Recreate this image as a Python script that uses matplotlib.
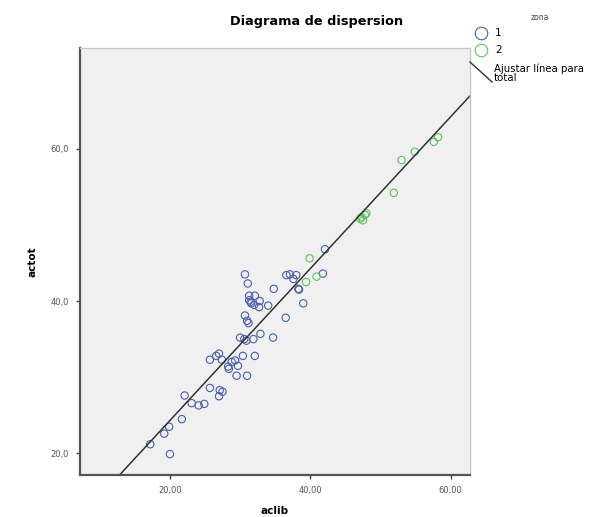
import numpy as np
import matplotlib.pyplot as plt
from matplotlib.lines import Line2D

# datos (aclib, actot)
aclib_1 = [30.7, 31.1, 34.8, 31.3, 32.1, 31.3, 32.8, 31.6, 32.7, 34.0,
           30.7, 31.0, 31.2, 36.5, 39.0, 36.6, 37.1, 38.0, 37.6, 38.3,
           38.4, 41.8, 42.1, 30.0, 30.6, 30.9, 31.9, 32.9, 34.7, 27.0,
           25.7, 27.4, 29.3, 30.4, 32.1, 28.3, 28.4, 29.7, 29.5, 31.0,
           25.7, 27.1, 27.5, 27.0, 22.1, 23.1, 24.1, 24.9, 21.7, 19.9,
           19.2, 20.0, 17.2, 31.5, 32.0, 26.6, 28.8]
actot_1 = [43.5, 42.3, 41.6, 40.7, 40.7, 40.1, 40.0, 39.7, 39.2, 39.4,
           38.1, 37.4, 37.1, 37.8, 39.7, 43.4, 43.5, 43.4, 42.9, 41.6,
           41.5, 43.6, 46.8, 35.2, 35.0, 34.8, 35.0, 35.7, 35.2, 33.1,
           32.3, 32.3, 32.2, 32.8, 32.8, 31.4, 31.1, 31.5, 30.2, 30.2,
           28.6, 28.3, 28.1, 27.5, 27.6, 26.6, 26.3, 26.5, 24.5, 23.5,
           22.6, 19.9, 21.2, 39.9, 39.5, 32.8, 32.0]
aclib_2 = [39.9, 39.4, 40.9, 47.3, 47.8, 47.1, 47.5, 48.0, 51.9, 53.0,
           54.9, 57.6, 58.2]
actot_2 = [45.6, 42.5, 43.2, 51.0, 51.3, 50.8, 50.6, 51.5, 54.2, 58.5,
           59.6, 60.9, 61.5]

azul = '#4a5fb0'
verde = '#5cc25c'

fig = plt.figure(figsize=(6.04, 5.17), dpi=100)
ax = fig.add_axes([0.1325, 0.081, 0.645, 0.826])
ax.set_facecolor('#f0f0f0')

ax.scatter(aclib_1, actot_1, s=28, facecolors='none', edgecolors=azul, linewidths=0.8)
ax.scatter(aclib_2, actot_2, s=28, facecolors='none', edgecolors=verde, linewidths=0.8)

# linea de ajuste total
x_all = np.array(aclib_1 + aclib_2)
y_all = np.array(actot_1 + actot_2)
b, a = np.polyfit(x_all, y_all, 1)
xs = np.array([7.2, 62.7])
ax.plot(xs, a + b * xs, color='#333333', lw=1.1)

ax.set_xlim(7.2, 62.7)
ax.set_ylim(17.15, 73.2)
ax.set_xticks([20, 40, 60])
ax.set_xticklabels(['20,00', '40,00', '60,00'])
ax.set_yticks([20, 40, 60])
ax.set_yticklabels(['20,0', '40,0', '60,0'])
ax.tick_params(labelsize=6, labelcolor='#555555', length=3, width=1, color='#444444', pad=5)

for s in ['left', 'bottom']:
    ax.spines[s].set_color('#555555')
    ax.spines[s].set_linewidth(1.6)
for s in ['top', 'right']:
    ax.spines[s].set_color('#c8c8c8')
    ax.spines[s].set_linewidth(1.0)

ax.set_xlabel('aclib', fontsize=7.5, fontweight='bold', labelpad=8)
ax.set_ylabel('actot', fontsize=7.5, fontweight='bold', labelpad=9)

fig.text(317 / 604, 1 - 22 / 517, 'Diagrama de dispersion', ha='center', va='center',
         fontsize=9.3, fontweight='bold')

# leyenda
fig.text(540 / 604, 1 - 17 / 517, 'zona', ha='center', va='center', fontsize=5.5, color='#444444')
fig.add_artist(Line2D([481 / 604], [1 - 33 / 517], marker='o', markersize=9, mfc='none',
                      mec=azul, mew=0.8, transform=fig.transFigure))
fig.add_artist(Line2D([481 / 604], [1 - 50 / 517], marker='o', markersize=9, mfc='none',
                      mec=verde, mew=0.8, transform=fig.transFigure))
fig.text(495 / 604, 1 - 33 / 517, '1', ha='left', va='center', fontsize=7.5)
fig.text(495 / 604, 1 - 50 / 517, '2', ha='left', va='center', fontsize=7.5)
fig.add_artist(Line2D([470 / 604, 492 / 604], [1 - 62 / 517, 1 - 82 / 517], color='#333333',
                      lw=1.0, transform=fig.transFigure))
fig.text(494 / 604, 1 - 73 / 517, 'Ajustar línea para\ntotal', ha='left', va='center',
         fontsize=7.3, linespacing=0.85)

fig.savefig('out.png', dpi=100)
